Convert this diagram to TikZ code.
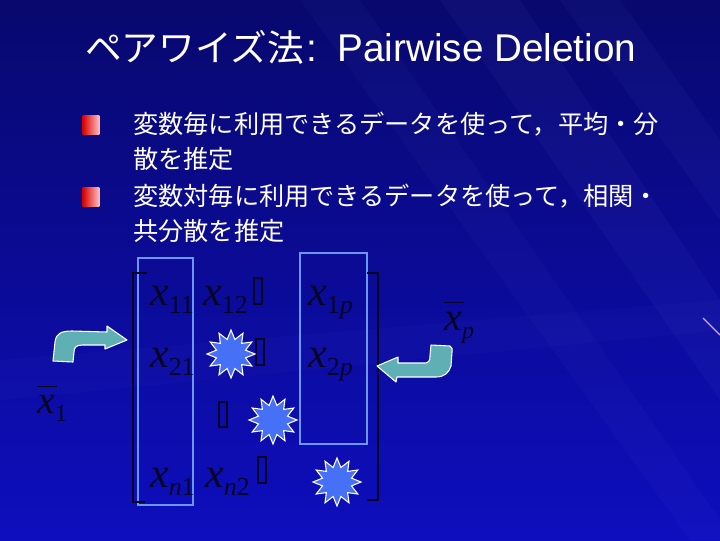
\documentclass[tikz,border=0pt]{standalone}
\usepackage{fontspec}
\setmainfont{Liberation Sans}
\newfontfamily\jp{Noto Sans CJK JP}
\newfontfamily\tms{Liberation Serif}
\usetikzlibrary{shapes.geometric}
\definecolor{bgtop}{RGB}{8,8,110}
\definecolor{bgbot}{RGB}{14,14,190}
\definecolor{ink}{RGB}{6,6,36}
\definecolor{boxblue}{RGB}{105,150,255}
\definecolor{starblue}{RGB}{70,112,245}
\definecolor{arrowteal}{RGB}{95,176,180}
\definecolor{streak}{RGB}{150,170,255}
\newcommand\mx[1]{{\tms\fontsize{31.5}{32}\selectfont\itshape x}\raisebox{-6pt}{\tms\fontsize{19.5}{20}\selectfont #1}}
\begin{document}
\begin{tikzpicture}[x=0.75pt,y=-0.75pt,
  txt/.style={anchor=base west, inner sep=0, text=white, font=\jp\fontsize{18.9}{20}\selectfont},
  ent/.style={anchor=base west, inner sep=0, text=ink},
  bulletsq/.style={minimum width=12.5pt, minimum height=14pt, inner sep=0, left color=red!85!black, right color=red!25!white},
  starx/.style={star, star points=12, star point ratio=1.6, minimum size=36pt, inner sep=0, fill=starblue, draw=white, line width=0.8pt},
  colbox/.style={draw=boxblue, line width=0.8pt},
  brk/.style={draw=ink, line width=1.9pt},
  tf/.style={draw=ink, line width=1.5pt},
  barr/.style={fill=arrowteal, draw=white, line width=0.8pt, line join=round}]
\useasboundingbox (0,0) rectangle (720,540);
% background
\shade[top color=bgtop, bottom color=bgbot] (0,0) rectangle (720,540);
\fill[streak, opacity=0.045] (440,0) -- (520,0) -- (720,300) -- (720,400) -- cycle;
\fill[streak, opacity=0.04] (560,0) -- (620,0) -- (720,140) -- (720,220) -- cycle;
\fill[streak, opacity=0.03] (300,0) -- (360,0) -- (720,520) -- (720,540) -- (690,540) -- cycle;
\fill[streak, opacity=0.025] (0,360) -- (720,300) -- (720,330) -- (0,400) -- cycle;
\draw[color={rgb,255:red,200;green,170;blue,255}, line width=0.9pt] (703,318) -- (720,335);
% title
\node[anchor=base west, inner sep=0, text=white] (title) at (85,61)
  {{\jp\fontsize{27.5}{30}\selectfont ペアワイズ法}\kern2pt{\fontsize{29}{30}\selectfont:\kern15pt Pairwise Deletion}};
% bullets
\node[bulletsq] (b1) at (91,125) {};
\node[bulletsq] (b2) at (91,197) {};
\node[txt] (t1) at (133,133) {変数毎に利用できるデータを使って，平均・分};
\node[txt] (t2) at (133,168) {散を推定};
\node[txt] (t3) at (133,205) {変数対毎に利用できるデータを使って，相関・};
\node[txt] (t4) at (133,240) {共分散を推定};
% column boxes
\draw[colbox] (138,258) rectangle (193,505);
\draw[colbox] (300,253) rectangle (367,444);
% brackets
\draw[brk] (147,273) -- (133,273) -- (133,502) -- (145,502);
\draw[brk] (367,273) -- (378,273) -- (378,500) -- (367,500);
% entries
\node[ent] (x11) at (150,305) {\mx{11}};
\node[ent] (x12) at (203,305) {\mx{12}};
\node[ent] (x1p) at (308,305) {\mx{1\textit{p}}};
\node[ent] (x21) at (150,367) {\mx{21}};
\node[ent] (x2p) at (308,367) {\mx{2\textit{p}}};
\node[ent] (xn1) at (150,487) {\mx{\textit{n}1}};
\node[ent] (xn2) at (205,487) {\mx{\textit{n}2}};
% missing-glyph boxes
\draw[tf] (254,278) rectangle (262,304);
\draw[tf] (256,339) rectangle (264,365);
\draw[tf] (219,402) rectangle (227,427);
\draw[tf] (258,457) rectangle (266,483);
% means
\node[ent] (xb1) at (37,413) {\makebox[0pt][l]{\raisebox{19.5pt}{\rule{15pt}{1pt}}}{\tms\fontsize{30}{30}\selectfont\itshape x}\raisebox{-6pt}{\tms\fontsize{18}{18}\selectfont 1}};
\node[ent] (xbp) at (444,330) {\makebox[0pt][l]{\raisebox{20pt}{\rule{15pt}{1pt}}}{\tms\fontsize{30}{30}\selectfont\itshape x}\raisebox{-6pt}{\tms\fontsize{18}{18}\selectfont\itshape p}};
% stars
\node[starx] (s1) at (231,354) {};
\node[starx] (s2) at (273,420) {};
\node[starx] (s3) at (337,482) {};
% arrows
\filldraw[barr] (53,361) -- (55,342) .. controls (56,333) and (62,331) .. (72,331) -- (107,332) -- (107,326) -- (127,340) -- (105,349) -- (105,345) -- (82,345) .. controls (76,345) and (74,348) .. (74,352) -- (73,362) -- cycle;
\filldraw[barr] (377,366) -- (398,357) -- (398,363) -- (425,363) .. controls (429,363) and (430,360) .. (430,356) -- (431,345) -- (450,346) .. controls (453,347) and (452,350) .. (452,352) -- (451,366) .. controls (449,373) and (444,377) .. (436,377) -- (397,377) -- (396,382) -- cycle;
\end{tikzpicture}
\end{document}
